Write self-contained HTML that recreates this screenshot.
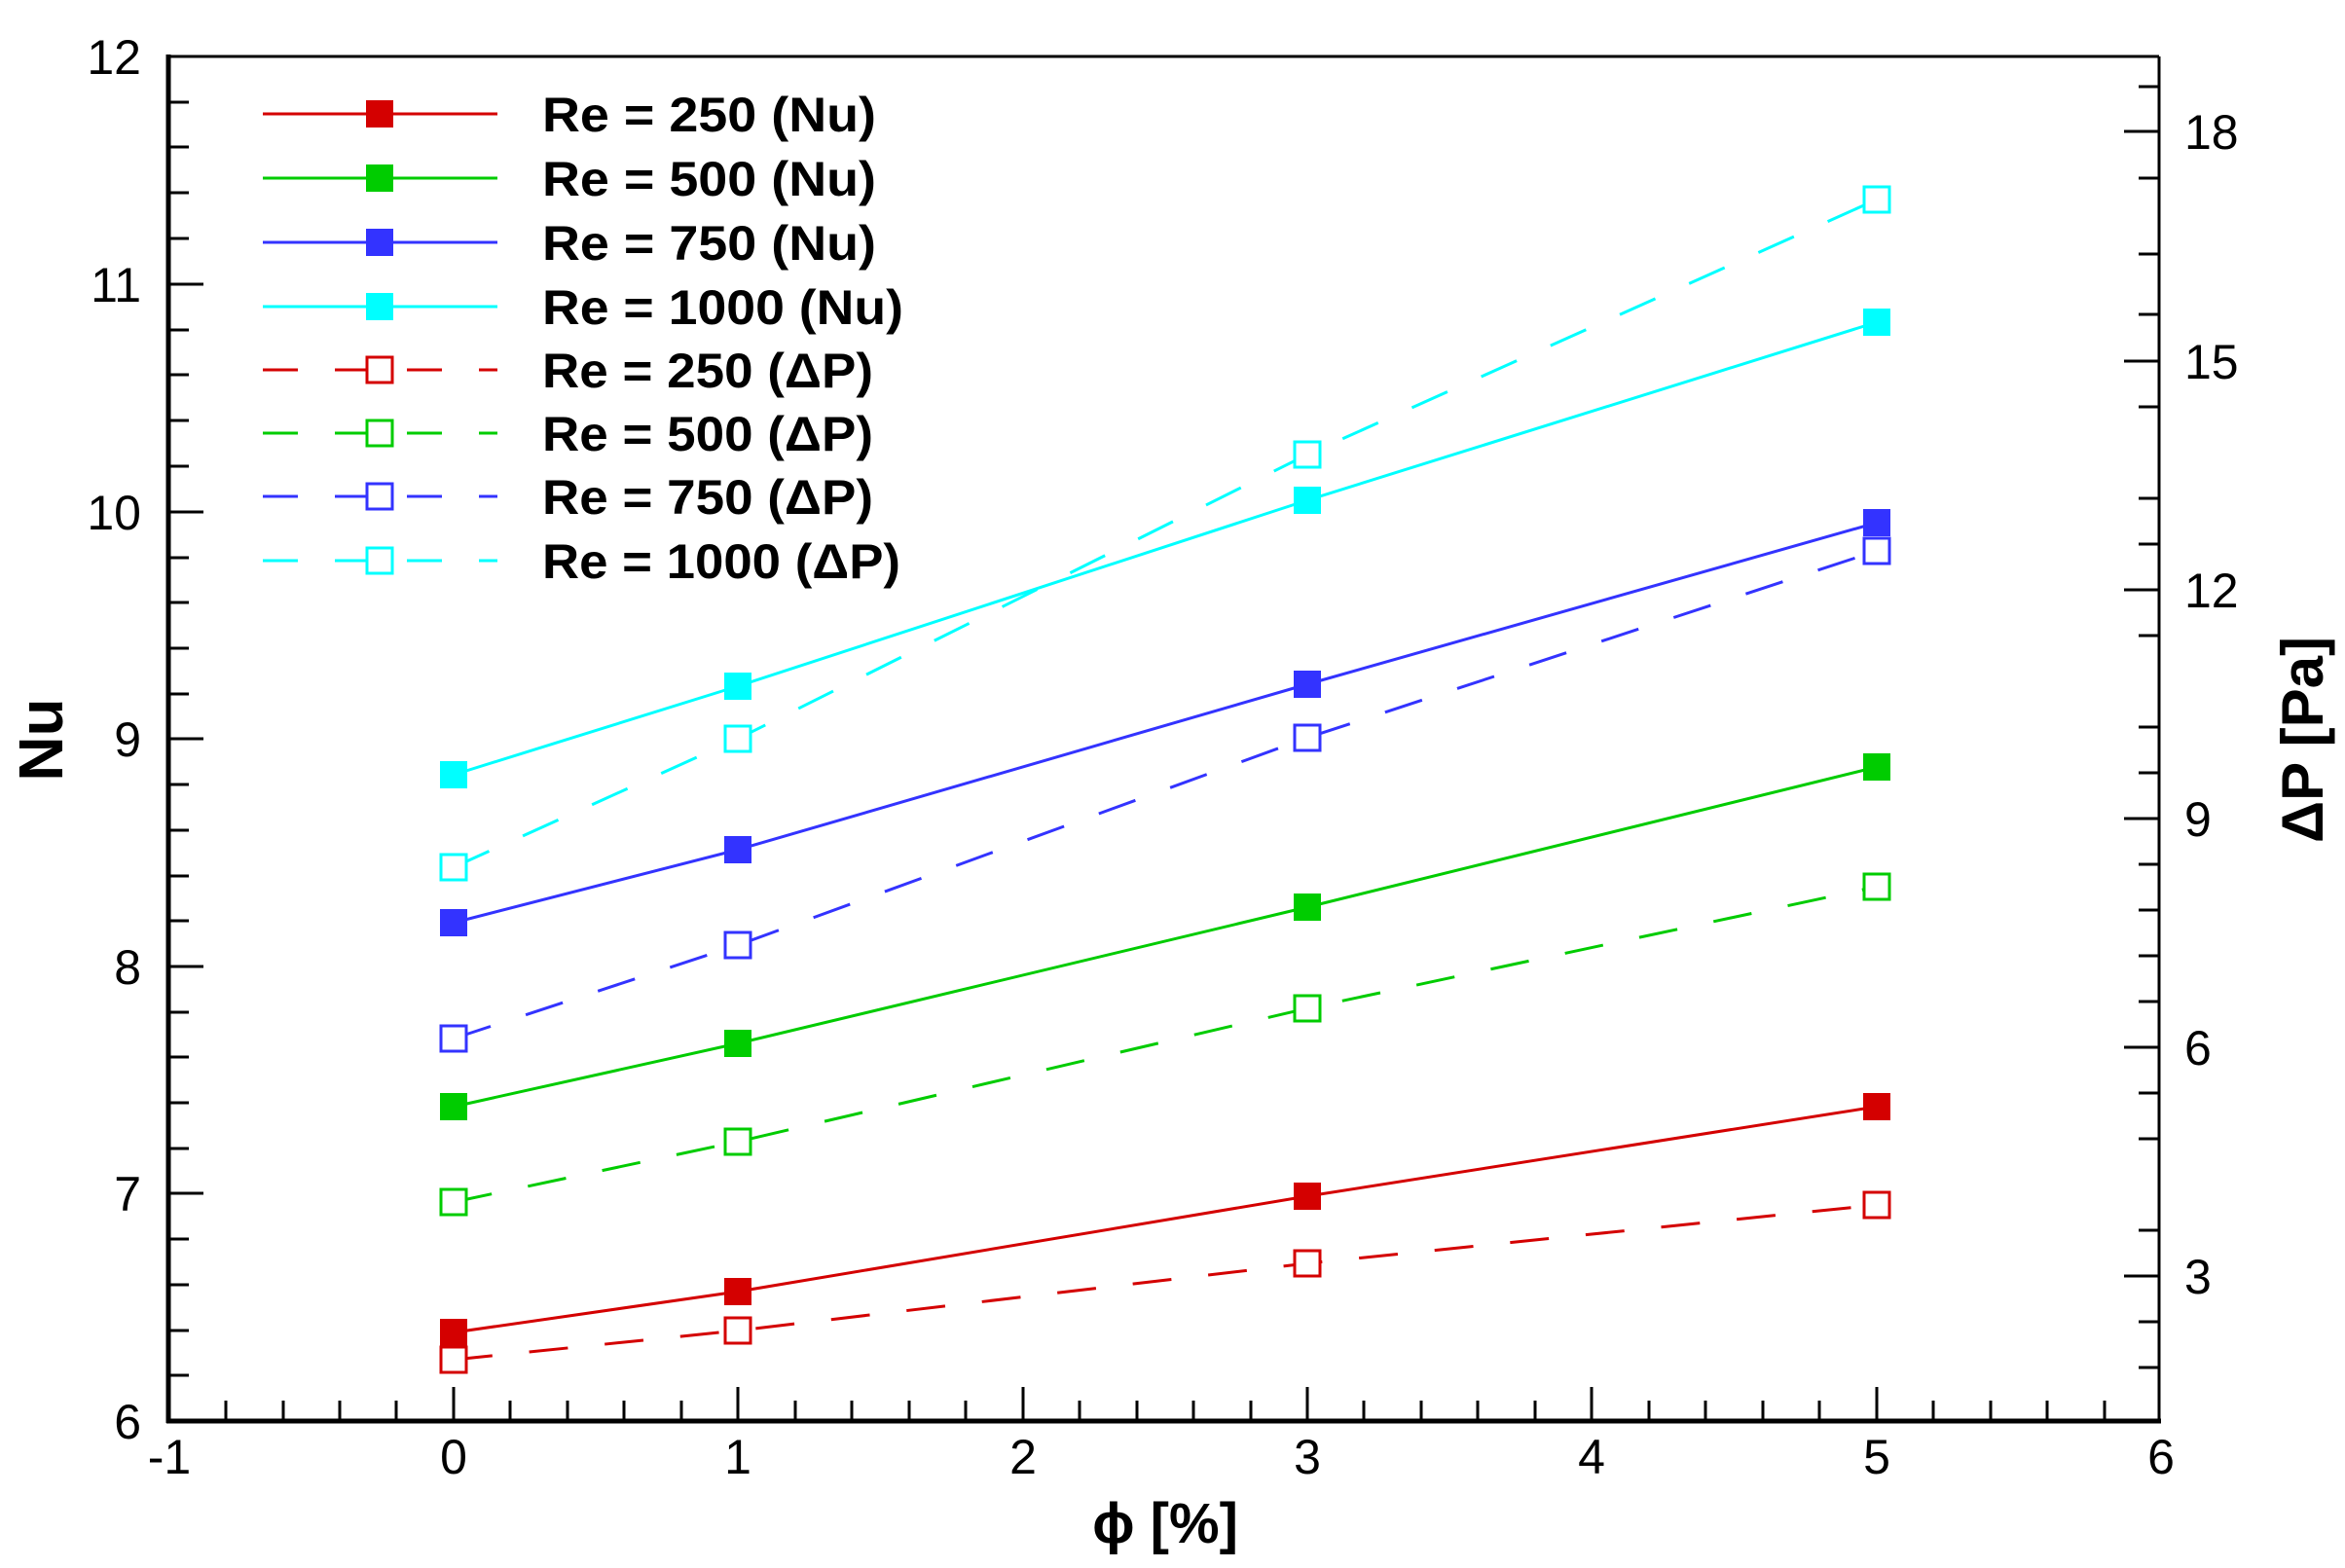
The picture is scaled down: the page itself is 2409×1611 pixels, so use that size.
<!DOCTYPE html>
<html><head><meta charset="utf-8"><style>html,body{margin:0;padding:0;background:#fff}svg{display:block}</style></head>
<body>
<svg xmlns="http://www.w3.org/2000/svg" width="2409" height="1611" viewBox="0 0 2409 1611">
<rect width="2409" height="1611" fill="#fff"/>
<g stroke="#000" fill="none">
<line x1="173" y1="58" x2="2218" y2="58" stroke-width="3"/>
<line x1="2218" y1="58" x2="2218" y2="1460" stroke-width="3"/>
<line x1="173" y1="56" x2="173" y2="1462" stroke-width="5"/>
<line x1="171" y1="1460" x2="2220" y2="1460" stroke-width="5"/>
</g>
<g stroke="#000" stroke-width="3" id="ticks">
<!-- left major -->
<line x1="173" y1="58" x2="209" y2="58"/><line x1="173" y1="292" x2="209" y2="292"/><line x1="173" y1="526" x2="209" y2="526"/><line x1="173" y1="759" x2="209" y2="759"/><line x1="173" y1="993" x2="209" y2="993"/><line x1="173" y1="1226" x2="209" y2="1226"/>
<!-- left minor -->
<line x1="173" y1="105" x2="194" y2="105"/><line x1="173" y1="151" x2="194" y2="151"/><line x1="173" y1="198" x2="194" y2="198"/><line x1="173" y1="245" x2="194" y2="245"/>
<line x1="173" y1="339" x2="194" y2="339"/><line x1="173" y1="385" x2="194" y2="385"/><line x1="173" y1="432" x2="194" y2="432"/><line x1="173" y1="479" x2="194" y2="479"/>
<line x1="173" y1="573" x2="194" y2="573"/><line x1="173" y1="619" x2="194" y2="619"/><line x1="173" y1="666" x2="194" y2="666"/><line x1="173" y1="713" x2="194" y2="713"/>
<line x1="173" y1="806" x2="194" y2="806"/><line x1="173" y1="853" x2="194" y2="853"/><line x1="173" y1="900" x2="194" y2="900"/><line x1="173" y1="946" x2="194" y2="946"/>
<line x1="173" y1="1040" x2="194" y2="1040"/><line x1="173" y1="1086" x2="194" y2="1086"/><line x1="173" y1="1133" x2="194" y2="1133"/><line x1="173" y1="1180" x2="194" y2="1180"/>
<line x1="173" y1="1273" x2="194" y2="1273"/><line x1="173" y1="1320" x2="194" y2="1320"/><line x1="173" y1="1367" x2="194" y2="1367"/><line x1="173" y1="1413" x2="194" y2="1413"/>
<!-- bottom major -->
<line x1="466" y1="1460" x2="466" y2="1425"/><line x1="758" y1="1460" x2="758" y2="1425"/><line x1="1051" y1="1460" x2="1051" y2="1425"/><line x1="1343" y1="1460" x2="1343" y2="1425"/><line x1="1635" y1="1460" x2="1635" y2="1425"/><line x1="1928" y1="1460" x2="1928" y2="1425"/>
<!-- bottom minor -->
<line x1="232" y1="1460" x2="232" y2="1439"/><line x1="291" y1="1460" x2="291" y2="1439"/><line x1="349" y1="1460" x2="349" y2="1439"/><line x1="407" y1="1460" x2="407" y2="1439"/>
<line x1="524" y1="1460" x2="524" y2="1439"/><line x1="583" y1="1460" x2="583" y2="1439"/><line x1="641" y1="1460" x2="641" y2="1439"/><line x1="700" y1="1460" x2="700" y2="1439"/>
<line x1="817" y1="1460" x2="817" y2="1439"/><line x1="875" y1="1460" x2="875" y2="1439"/><line x1="934" y1="1460" x2="934" y2="1439"/><line x1="992" y1="1460" x2="992" y2="1439"/>
<line x1="1109" y1="1460" x2="1109" y2="1439"/><line x1="1168" y1="1460" x2="1168" y2="1439"/><line x1="1226" y1="1460" x2="1226" y2="1439"/><line x1="1285" y1="1460" x2="1285" y2="1439"/>
<line x1="1401" y1="1460" x2="1401" y2="1439"/><line x1="1460" y1="1460" x2="1460" y2="1439"/><line x1="1518" y1="1460" x2="1518" y2="1439"/><line x1="1577" y1="1460" x2="1577" y2="1439"/>
<line x1="1694" y1="1460" x2="1694" y2="1439"/><line x1="1752" y1="1460" x2="1752" y2="1439"/><line x1="1811" y1="1460" x2="1811" y2="1439"/><line x1="1869" y1="1460" x2="1869" y2="1439"/>
<line x1="1986" y1="1460" x2="1986" y2="1439"/><line x1="2045" y1="1460" x2="2045" y2="1439"/><line x1="2103" y1="1460" x2="2103" y2="1439"/><line x1="2162" y1="1460" x2="2162" y2="1439"/>
<!-- right major -->
<line x1="2218" y1="135" x2="2182" y2="135"/><line x1="2218" y1="371" x2="2182" y2="371"/><line x1="2218" y1="606" x2="2182" y2="606"/><line x1="2218" y1="841" x2="2182" y2="841"/><line x1="2218" y1="1076" x2="2182" y2="1076"/><line x1="2218" y1="1311" x2="2182" y2="1311"/>
<!-- right minor -->
<line x1="2218" y1="89" x2="2197" y2="89"/><line x1="2218" y1="183" x2="2197" y2="183"/><line x1="2218" y1="261" x2="2197" y2="261"/><line x1="2218" y1="323" x2="2197" y2="323"/>
<line x1="2218" y1="418" x2="2197" y2="418"/><line x1="2218" y1="512" x2="2197" y2="512"/><line x1="2218" y1="559" x2="2197" y2="559"/>
<line x1="2218" y1="653" x2="2197" y2="653"/><line x1="2218" y1="747" x2="2197" y2="747"/><line x1="2218" y1="794" x2="2197" y2="794"/>
<line x1="2218" y1="888" x2="2197" y2="888"/><line x1="2218" y1="935" x2="2197" y2="935"/><line x1="2218" y1="982" x2="2197" y2="982"/><line x1="2218" y1="1029" x2="2197" y2="1029"/>
<line x1="2218" y1="1123" x2="2197" y2="1123"/><line x1="2218" y1="1170" x2="2197" y2="1170"/><line x1="2218" y1="1264" x2="2197" y2="1264"/>
<line x1="2218" y1="1358" x2="2197" y2="1358"/><line x1="2218" y1="1405" x2="2197" y2="1405"/>
</g>
<g font-family="Liberation Sans, sans-serif" font-size="50" fill="#000">
<g text-anchor="end">
<text x="145" y="76">12</text><text x="145" y="310">11</text><text x="145" y="544">10</text><text x="145" y="777">9</text><text x="145" y="1011">8</text><text x="145" y="1244">7</text><text x="145" y="1478">6</text>
</g>
<g text-anchor="middle">
<text x="174" y="1514">-1</text><text x="466" y="1514">0</text><text x="758" y="1514">1</text><text x="1051" y="1514">2</text><text x="1343" y="1514">3</text><text x="1635" y="1514">4</text><text x="1928" y="1514">5</text><text x="2220" y="1514">6</text>
</g>
<g text-anchor="start">
<text x="2244" y="153">18</text><text x="2244" y="389">15</text><text x="2244" y="624">12</text><text x="2244" y="859">9</text><text x="2244" y="1094">6</text><text x="2244" y="1329">3</text>
</g>
</g>
<g font-family="Liberation Sans, DejaVu Sans, sans-serif" font-weight="bold" fill="#000">
<text x="1197" y="1585" font-size="58" text-anchor="middle">ϕ [%]</text>
<text transform="translate(64,760) rotate(-90)" font-size="64" text-anchor="middle">Nu</text>
<text transform="translate(2386,760) rotate(-90)" font-size="60" text-anchor="middle">ΔP [Pa]</text>
</g>
<!-- series -->
<g fill="none" stroke-width="3">
<polyline stroke="#d40000" points="466,1369 758,1327 1343,1229 1928,1137"/>
<polyline stroke="#00cc00" points="466,1137 758,1072 1343,932 1928,788"/>
<polyline stroke="#3333ff" points="466,948 758,873 1343,703 1928,537"/>
<polyline stroke="#00ffff" points="466,796 758,705 1343,514 1928,331"/>
<g stroke-dasharray="40 38">
<polyline stroke="#d40000" points="466,1397 758,1367 1343,1298 1928,1238"/>
<polyline stroke="#00cc00" points="466,1235 758,1173 1343,1036 1928,911"/>
<polyline stroke="#3333ff" points="466,1067 758,971 1343,758 1928,566"/>
<polyline stroke="#00ffff" points="466,891 758,759 1343,467 1928,205"/>
</g>
</g>
<g>
<g fill="#d40000"><rect x="452" y="1355" width="28" height="28"/><rect x="744" y="1313" width="28" height="28"/><rect x="1329" y="1215" width="28" height="28"/><rect x="1914" y="1123" width="28" height="28"/></g>
<g fill="#00cc00"><rect x="452" y="1123" width="28" height="28"/><rect x="744" y="1058" width="28" height="28"/><rect x="1329" y="918" width="28" height="28"/><rect x="1914" y="774" width="28" height="28"/></g>
<g fill="#3333ff"><rect x="452" y="934" width="28" height="28"/><rect x="744" y="859" width="28" height="28"/><rect x="1329" y="689" width="28" height="28"/><rect x="1914" y="523" width="28" height="28"/></g>
<g fill="#00ffff"><rect x="452" y="782" width="28" height="28"/><rect x="744" y="691" width="28" height="28"/><rect x="1329" y="500" width="28" height="28"/><rect x="1914" y="317" width="28" height="28"/></g>
<g fill="#fff" stroke-width="3">
<g stroke="#d40000"><rect x="453" y="1384" width="26" height="26"/><rect x="745" y="1354" width="26" height="26"/><rect x="1330" y="1285" width="26" height="26"/><rect x="1915" y="1225" width="26" height="26"/></g>
<g stroke="#00cc00"><rect x="453" y="1222" width="26" height="26"/><rect x="745" y="1160" width="26" height="26"/><rect x="1330" y="1023" width="26" height="26"/><rect x="1915" y="898" width="26" height="26"/></g>
<g stroke="#3333ff"><rect x="453" y="1054" width="26" height="26"/><rect x="745" y="958" width="26" height="26"/><rect x="1330" y="745" width="26" height="26"/><rect x="1915" y="553" width="26" height="26"/></g>
<g stroke="#00ffff"><rect x="453" y="878" width="26" height="26"/><rect x="745" y="746" width="26" height="26"/><rect x="1330" y="454" width="26" height="26"/><rect x="1915" y="192" width="26" height="26"/></g>
</g>
</g>
<!-- legend -->
<g stroke-width="3">
<line x1="270" y1="117" x2="511" y2="117" stroke="#d40000"/><rect x="376" y="103" width="28" height="28" fill="#d40000"/>
<line x1="270" y1="183" x2="511" y2="183" stroke="#00cc00"/><rect x="376" y="169" width="28" height="28" fill="#00cc00"/>
<line x1="270" y1="249" x2="511" y2="249" stroke="#3333ff"/><rect x="376" y="235" width="28" height="28" fill="#3333ff"/>
<line x1="270" y1="315" x2="511" y2="315" stroke="#00ffff"/><rect x="376" y="301" width="28" height="28" fill="#00ffff"/>
<g stroke-dasharray="36 38">
<line x1="270" y1="380" x2="511" y2="380" stroke="#d40000"/>
<line x1="270" y1="445" x2="511" y2="445" stroke="#00cc00"/>
<line x1="270" y1="510" x2="511" y2="510" stroke="#3333ff"/>
<line x1="270" y1="576" x2="511" y2="576" stroke="#00ffff"/>
</g>
<rect x="377" y="367" width="26" height="26" fill="#fff" stroke="#d40000"/>
<rect x="377" y="432" width="26" height="26" fill="#fff" stroke="#00cc00"/>
<rect x="377" y="497" width="26" height="26" fill="#fff" stroke="#3333ff"/>
<rect x="377" y="563" width="26" height="26" fill="#fff" stroke="#00ffff"/>
</g>
<g font-family="Liberation Sans, DejaVu Sans, sans-serif" font-weight="bold" font-size="50" fill="#000">
<text x="557" y="135" textLength="343" lengthAdjust="spacingAndGlyphs">Re = 250 (Nu)</text>
<text x="557" y="201" textLength="343" lengthAdjust="spacingAndGlyphs">Re = 500 (Nu)</text>
<text x="557" y="267" textLength="343" lengthAdjust="spacingAndGlyphs">Re = 750 (Nu)</text>
<text x="557" y="333" textLength="371" lengthAdjust="spacingAndGlyphs">Re = 1000 (Nu)</text>
<text x="557" y="398" textLength="340" lengthAdjust="spacingAndGlyphs">Re = 250 (ΔP)</text>
<text x="557" y="463" textLength="340" lengthAdjust="spacingAndGlyphs">Re = 500 (ΔP)</text>
<text x="557" y="528" textLength="340" lengthAdjust="spacingAndGlyphs">Re = 750 (ΔP)</text>
<text x="557" y="594" textLength="368" lengthAdjust="spacingAndGlyphs">Re = 1000 (ΔP)</text>
</g>
</svg>
</body></html>
